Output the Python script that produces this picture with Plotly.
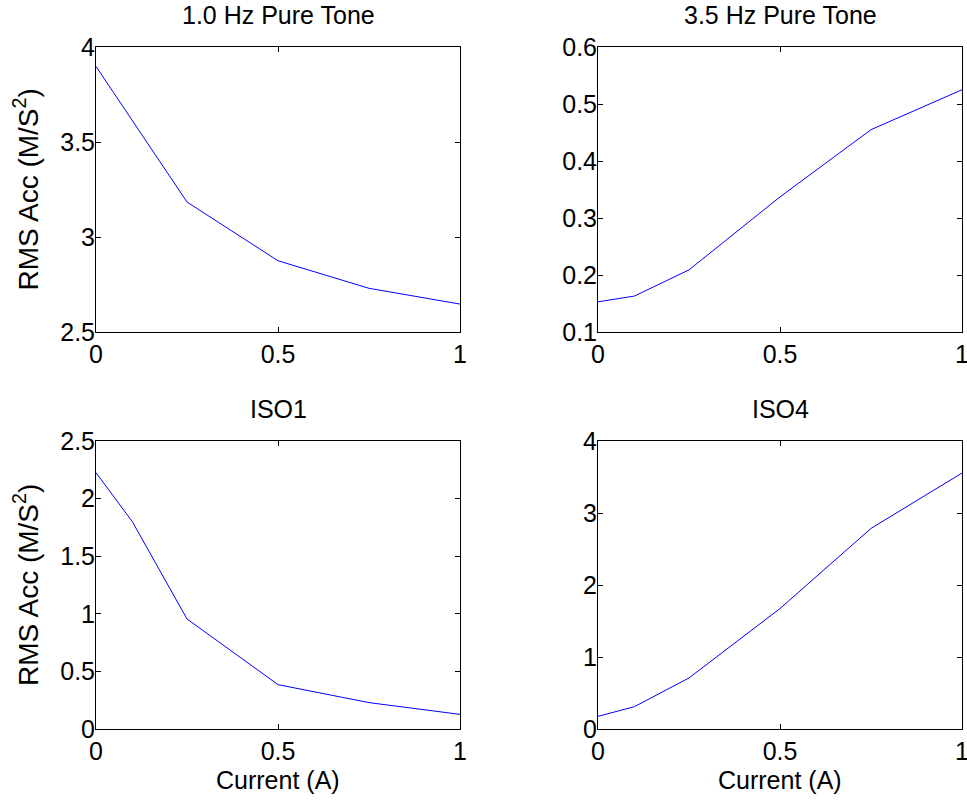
import plotly.graph_objects as go

W, H = 967, 803

titles = ["1.0 Hz Pure Tone", "3.5 Hz Pure Tone", "ISO1", "ISO4"]

x_tl = [0, 0.25, 0.5, 0.75, 1.0]
y_tl = [3.898, 3.184, 2.875, 2.730, 2.647]

x_tr = [0, 0.1, 0.25, 0.5, 0.75, 1.0]
y_tr = [0.153, 0.163, 0.209, 0.337, 0.455, 0.525]

x_bl = [0, 0.1, 0.25, 0.5, 0.75, 1.0]
y_bl = [2.225, 1.799, 0.955, 0.385, 0.229, 0.127]

x_br = [0, 0.1, 0.25, 0.5, 0.75, 1.0]
y_br = [0.176, 0.31, 0.709, 1.673, 2.786, 3.555]

x_ticks = [0, 0.5, 1]
x_ticklabels = ["0", "0.5", "1"]
y_ticks_tl = [2.5, 3, 3.5, 4]
y_ticks_tr = [0.1, 0.2, 0.3, 0.4, 0.5, 0.6]
y_ticks_bl = [0, 0.5, 1, 1.5, 2, 2.5]
y_ticks_br = [0, 1, 2, 3, 4]

FONT = "Liberation Sans, Arial, sans-serif"
FS = 25

# pixel boxes -> paper domains
def xd(l, r):
    return [l / W, r / W]

def yd(t, b):
    return [1 - b / H, 1 - t / H]

panels = [
    (x_tl, y_tl, y_ticks_tl, [2.5, 4], xd(96, 460), yd(47, 332)),
    (x_tr, y_tr, y_ticks_tr, [0.1, 0.6], xd(598, 962), yd(47, 332)),
    (x_bl, y_bl, y_ticks_bl, [0, 2.5], xd(96, 460), yd(441, 729)),
    (x_br, y_br, y_ticks_br, [0, 4], xd(598, 962), yd(441, 729)),
]

fig = go.Figure()
layout = {}
annotations = []
for i, (xs, ys, yt, yr, dx, dy) in enumerate(panels):
    n = "" if i == 0 else str(i + 1)
    fig.add_trace(go.Scatter(x=xs, y=ys, mode="lines",
                             line=dict(color="#0000ff", width=1),
                             xaxis="x" + n, yaxis="y" + n, showlegend=False,
                             hoverinfo="skip"))
    common = dict(showline=True, linecolor="black", linewidth=1, mirror="ticks",
                  ticks="inside", ticklen=5, tickcolor="black", showgrid=False,
                  zeroline=False, automargin=False, ticklabeloverflow="allow",
                  tickfont=dict(family=FONT, size=FS, color="black"))
    layout["xaxis" + n] = dict(domain=dx, range=[0, 1], tickvals=x_ticks,
                               ticktext=x_ticklabels, anchor="y" + n, **common)
    layout["yaxis" + n] = dict(domain=dy, range=yr, tickvals=yt, ticklabelstandoff=-5,
                               ticktext=[("%g" % v) for v in yt], anchor="x" + n, **common)
    annotations.append(dict(text=titles[i], x=(dx[0] + dx[1]) / 2, y=dy[1],
                            xref="paper", yref="paper", xanchor="center", yanchor="bottom",
                            yshift=16, showarrow=False,
                            font=dict(family=FONT, size=FS, color="black")))

for dy in [panels[0][5], panels[2][5]]:
    annotations.append(dict(text="RMS Acc (M/S<sup>2</sup>)", x=26 / W, y=(dy[0] + dy[1]) / 2,
                            xref="paper", yref="paper", xanchor="center", yanchor="middle",
                            textangle=-90, showarrow=False,
                            font=dict(family=FONT, size=28, color="black")))
for dx in [panels[2][4], panels[3][4]]:
    annotations.append(dict(text="Current (A)", x=(dx[0] + dx[1]) / 2, y=1 - 780 / H,
                            xref="paper", yref="paper", xanchor="center", yanchor="middle",
                            showarrow=False,
                            font=dict(family=FONT, size=FS, color="black")))

fig.update_layout(width=W, height=H, margin=dict(l=0, r=0, t=0, b=0),
                  paper_bgcolor="white", plot_bgcolor="white", hovermode=False,
                  annotations=annotations, **layout)
fig.write_html("out.html", config={"displayModeBar": False},
               post_script="document.body.style.margin='0';document.body.style.overflow='hidden';")
